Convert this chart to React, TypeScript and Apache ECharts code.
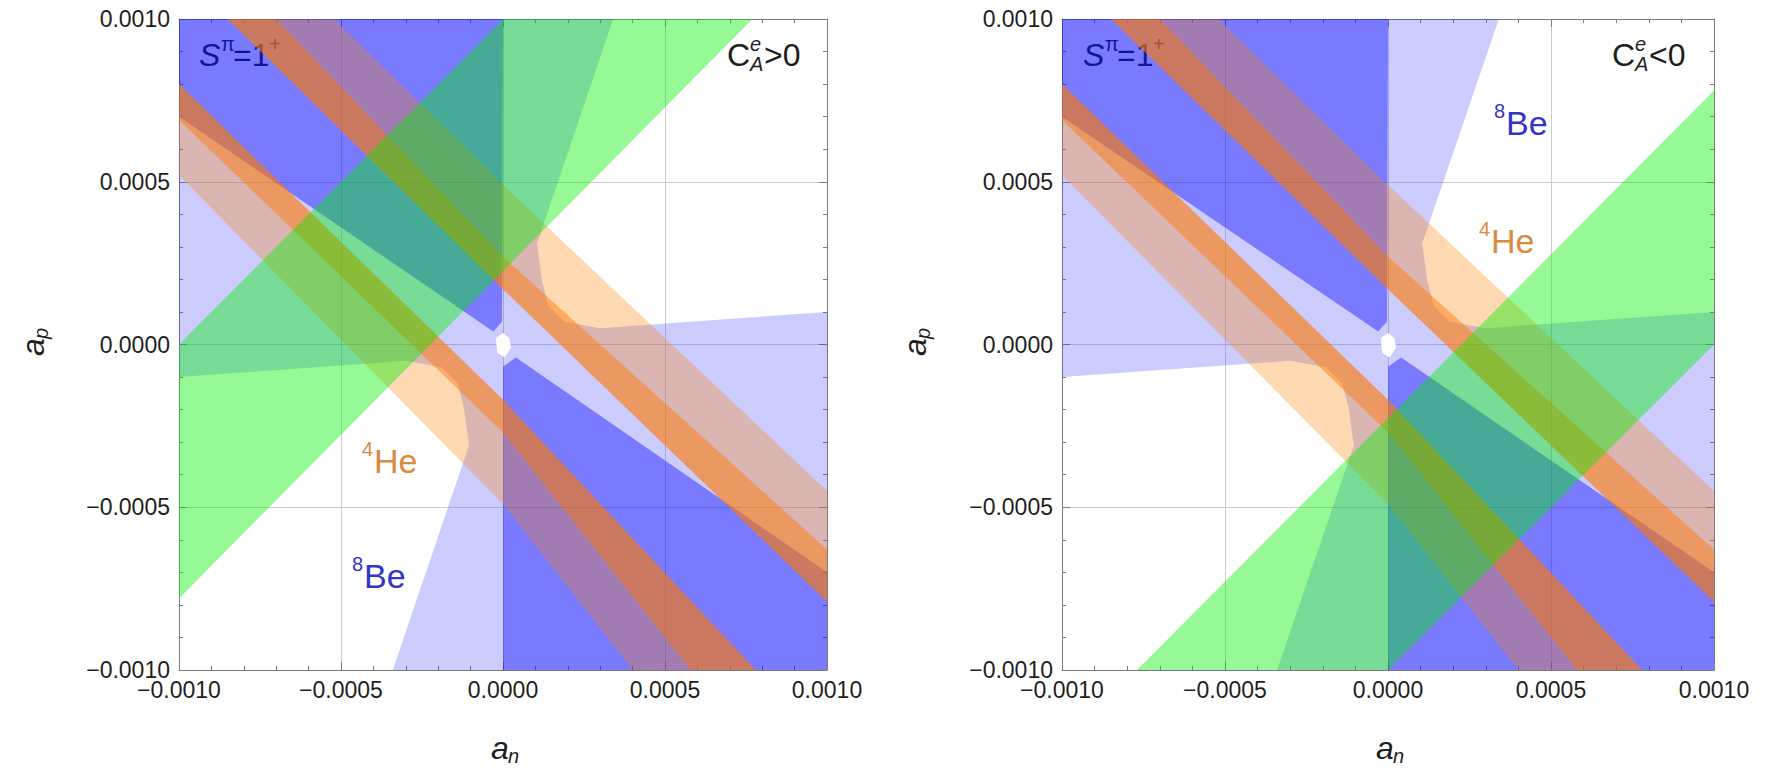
import React, { useEffect, useRef } from 'react';
import * as echarts from 'echarts';

// ---- axis range (a_n horizontal, a_p vertical) ----
const axisMin = -0.001;
const axisMax = 0.001;
const majorStep = 0.0005;

// ---- 8Be allowed region: wide (light) double wedge around the origin ----
const be8Wide: [number, number][] = [
  [0.00034, 0.001],
  [0.000105, 0.00031],
  [0.00012, 0.0002],
  [0.00014, 0.00012],
  [0.00019, 0.00007],
  [0.0003, 0.00005],
  [0.001, 0.0001],
  [0.001, -0.001],
  [-0.00034, -0.001],
  [-0.000105, -0.00031],
  [-0.00012, -0.0002],
  [-0.00014, -0.00012],
  [-0.00019, -0.00007],
  [-0.0003, -0.00005],
  [-0.001, -0.0001],
  [-0.001, 0.001],
];

// ---- 8Be allowed region: narrow (dark) wedges ----
const be8NarrowUpper: [number, number][] = [
  [0, 0.001],
  [-0.001, 0.001],
  [-0.001, 0.0007],
  [-0.00003, 0.00004],
  [-0.000003, 0.00007],
];
const be8NarrowLower: [number, number][] = [
  [0, -0.000068],
  [0.00004, -0.00004],
  [0.001, -0.0007],
  [0.001, -0.001],
  [0, -0.001],
];

// excluded spot at the origin
const be8Hole: [number, number][] = [
  [-0.000022, 0.00002],
  [0.0, 0.000035],
  [0.00002, 0.00002],
  [0.000025, -0.00001],
  [0.000005, -0.00004],
  [-0.000018, -0.000025],
];

// ---- 4He bands: wide (light) and core (dark) ----
const he4Band1Wide: [number, number][] = [
  [-0.00085, 0.001],
  [-0.00052, 0.001],
  [0, 0.00049],
  [0.001, -0.00045],
  [0.001, -0.00079],
  [0, 0.00017],
];
const he4Band1Core: [number, number][] = [
  [-0.00085, 0.001],
  [-0.0007, 0.001],
  [0, 0.00027],
  [0.001, -0.00063],
  [0.001, -0.00079],
  [0, 0.00017],
];
const he4Band2Wide: [number, number][] = [
  [0.00078, -0.001],
  [0.0004, -0.001],
  [0, -0.00049],
  [-0.001, 0.00052],
  [-0.001, 0.0008],
  [0, -0.00017],
];
const he4Band2Core: [number, number][] = [
  [0.00078, -0.001],
  [0.00058, -0.001],
  [0, -0.00027],
  [-0.001, 0.00069],
  [-0.001, 0.0008],
  [0, -0.00017],
];

// ---- green band, one per sign of C_A^e ----
const greenBandPos: [number, number][] = [
  [0, 0.001],
  [0.00077, 0.001],
  [-0.001, -0.00078],
  [-0.001, 0],
];
const greenBandNeg: [number, number][] = [
  [0, -0.001],
  [-0.00077, -0.001],
  [0.001, 0.00078],
  [0.001, 0],
];

// ---- styling ----
const FONT = '"Liberation Sans", Arial, Helvetica, sans-serif';
const FILL = {
  be8Wide: 'rgba(40,40,255,0.24)',
  be8Narrow: 'rgba(0,0,255,0.40)',
  he4Wide: 'rgba(255,128,0,0.30)',
  he4Core: 'rgba(255,118,0,0.45)',
  green: 'rgba(0,240,0,0.41)',
  hole: '#ffffff',
};
const FRAME = '#7c7c7c';
const TEXT = '#1e1e1e';
const BE_COLOR = '#3434c8';
const HE_COLOR = '#d98a3c';

const GRIDS = [
  { left: 179, top: 19, width: 648, height: 651 },
  { left: 1062, top: 19, width: 652, height: 651 },
];

const fmt = (v: number) => {
  if (Math.abs(v) < 1e-12) return '0.0000';
  const s = Math.abs(v).toFixed(4);
  return v < 0 ? '\u2212' + s : s;
};

function makeAxis(kind: 'x' | 'y', gi: number, position: string, labelled: boolean) {
  return {
    type: 'value',
    gridIndex: gi,
    position,
    min: axisMin,
    max: axisMax,
    interval: majorStep,
    axisLine: { show: true, onZero: false, lineStyle: { color: FRAME, width: 1 } },
    axisTick: { show: true, inside: true, length: 8, lineStyle: { color: FRAME, width: 1 } },
    minorTick: { show: true, splitNumber: 5, length: 4, lineStyle: { color: FRAME, width: 1 } },
    axisLabel: labelled
      ? {
          show: true,
          margin: kind === 'x' ? 8 : 9,
          fontSize: 23,
          fontFamily: FONT,
          color: TEXT,
          formatter: fmt,
          showMinLabel: true,
          showMaxLabel: true,
          hideOverlap: false,
        }
      : { show: false },
    splitLine: labelled ? { show: true, lineStyle: { color: '#cdcdcd', width: 1 } } : { show: false },
    minorSplitLine: { show: false },
  };
}

function polySeries(poly: [number, number][], fill: string, gi: number) {
  return {
    type: 'custom',
    xAxisIndex: gi * 2,
    yAxisIndex: gi * 2,
    silent: true,
    clip: true,
    data: poly,
    encode: { x: 0, y: 1 },
    renderItem: (params: any, api: any) => {
      if (params.dataIndex !== 0) return null;
      return {
        type: 'polygon',
        shape: { points: poly.map((p) => api.coord(p)) },
        style: { fill, stroke: 'none' },
      };
    },
  };
}

function txt(x: number, y: number, text: string, size: number, fill: string, italic = false) {
  return {
    type: 'text',
    x,
    y,
    style: {
      text,
      fontSize: size,
      fontFamily: FONT,
      fontStyle: italic ? 'italic' : 'normal',
      fill,
      align: 'left',
      verticalAlign: 'middle',
    },
  };
}

// isotope label like ⁴He / ⁸Be
function isotope(x: number, y: number, mass: string, sym: string, color: string) {
  return {
    type: 'group',
    x,
    y,
    children: [txt(0, -12, mass, 20, color), txt(12, 0, sym, 34, color)],
  };
}

function spinLabel(x: number, y: number) {
  return {
    type: 'group',
    x,
    y,
    children: [
      txt(0, 0, 'S', 32, TEXT, true),
      txt(22, -11, '\u03c0', 20, TEXT),
      txt(34, 0, '=1', 32, TEXT),
      txt(70, -11, '+', 20, TEXT),
    ],
  };
}

function couplingLabel(x: number, y: number, rel: string) {
  return {
    type: 'group',
    x,
    y,
    children: [
      txt(0, 0, 'C', 32, TEXT),
      txt(23, -11, 'e', 20, TEXT, true),
      txt(23, 9, 'A', 20, TEXT, true),
      txt(37, 0, rel + '0', 32, TEXT),
    ],
  };
}

function axisName(x: number, y: number, sub: string, vertical: boolean) {
  return {
    type: 'group',
    x,
    y,
    rotation: vertical ? Math.PI / 2 : 0,
    children: [txt(-12, 0, 'a', 32, TEXT, true), txt(5, 8, sub, 20, TEXT, true)],
  };
}

const PANELS = [
  {
    green: greenBandPos,
    rel: '>',
    spinAt: [199, 55],
    coupAt: [727, 55],
    heAt: [362, 461],
    beAt: [352, 576],
    apAt: [33, 344],
    anAt: [503, 748],
  },
  {
    green: greenBandNeg,
    rel: '<',
    spinAt: [1083, 55],
    coupAt: [1612, 55],
    heAt: [1479, 241],
    beAt: [1494, 123],
    apAt: [915, 344],
    anAt: [1388, 748],
  },
];

export default function App() {
  const ref = useRef<HTMLDivElement>(null);

  useEffect(() => {
    if (!ref.current) return;
    const chart = echarts.init(ref.current, null, { renderer: 'svg' });

    const xAxis: any[] = [];
    const yAxis: any[] = [];
    const series: any[] = [];
    const graphic: any[] = [];

    PANELS.forEach((p, gi) => {
      xAxis.push(makeAxis('x', gi, 'bottom', true), makeAxis('x', gi, 'top', false));
      yAxis.push(makeAxis('y', gi, 'left', true), makeAxis('y', gi, 'right', false));

      series.push(
        polySeries(be8Wide, FILL.be8Wide, gi),
        polySeries(be8NarrowUpper, FILL.be8Narrow, gi),
        polySeries(be8NarrowLower, FILL.be8Narrow, gi),
        polySeries(he4Band1Wide, FILL.he4Wide, gi),
        polySeries(he4Band2Wide, FILL.he4Wide, gi),
        polySeries(he4Band1Core, FILL.he4Core, gi),
        polySeries(he4Band2Core, FILL.he4Core, gi),
        polySeries(p.green, FILL.green, gi),
        polySeries(be8Hole, FILL.hole, gi)
      );

      graphic.push(
        spinLabel(p.spinAt[0], p.spinAt[1]),
        couplingLabel(p.coupAt[0], p.coupAt[1], p.rel),
        isotope(p.heAt[0], p.heAt[1], '4', 'He', HE_COLOR),
        isotope(p.beAt[0], p.beAt[1], '8', 'Be', BE_COLOR),
        axisName(p.apAt[0], p.apAt[1], 'p', true),
        axisName(p.anAt[0], p.anAt[1], 'n', false)
      );
    });

    chart.setOption({
      animation: false,
      backgroundColor: '#ffffff',
      grid: GRIDS.map((g) => ({ ...g, containLabel: false, outerBoundsMode: 'none' })),
      xAxis,
      yAxis,
      series,
      graphic,
    });

    return () => chart.dispose();
  }, []);

  return (
    <div
      ref={ref}
      style={{ position: 'absolute', left: 0, top: 0, width: 1783, height: 768 }}
    />
  );
}
